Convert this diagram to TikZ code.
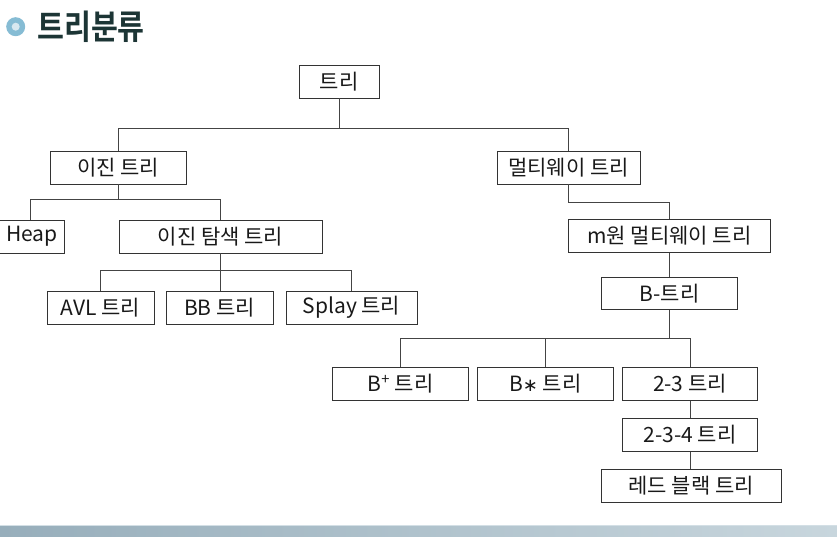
\documentclass[tikz,border=0pt]{standalone}
\usepackage{fontspec}
\setmainfont{Noto Sans CJK KR}
\newfontfamily\titlefont{Noto Sans CJK KR}[BoldFont={* Bold}]
\newfontfamily\symfont{DejaVu Sans}
\definecolor{boxline}{HTML}{333333}
\definecolor{connline}{HTML}{444444}
\definecolor{titlecol}{HTML}{1C3535}
\definecolor{bulletout}{HTML}{86BCD4}
\definecolor{bulletin}{HTML}{D8E8F0}
\definecolor{bandL}{HTML}{97AEBB}
\definecolor{bandR}{HTML}{C8D6DD}
\definecolor{bandtop}{HTML}{D3DFE5}
\begin{document}
\begin{tikzpicture}[x=1pt,y=-1pt,
  tbox/.style={draw=boxline, line width=0.9pt, rectangle, minimum height=33pt, inner sep=0pt,
     font=\fontsize{21}{24}\selectfont, text=black!90},
  conn/.style={draw=connline, line width=0.7pt}]
\useasboundingbox (0,0) rectangle (837,536);
% title
\fill[bulletout] (15.7,26.7) circle (9.5pt);
\fill[bulletin] (15.7,26.7) circle (4pt);
\node[anchor=west, text=titlecol, font=\titlefont\bfseries\fontsize{34}{38}\selectfont, inner sep=0pt] (title) at (37,27) {\scalebox{0.86}[1]{트리분류}};
% bottom band
\shade[left color=bandL, right color=bandR] (0,525) rectangle (837,536);
\fill[bandtop] (0,524.5) rectangle (837,526);
% nodes
\node[tbox, minimum width=80pt] (root) at (339,81.5) {트리};
\node[tbox, minimum width=136pt] (bin) at (118,167.5) {이진 트리};
\node[tbox, minimum width=143pt] (multi) at (568.5,167.5) {멀티웨이 트리};
\node[tbox, minimum width=68pt] (heap) at (30,236.5) {\hspace*{4pt}Heap};
\node[tbox, minimum width=203pt] (bst) at (220.5,236.5) {이진 탐색 트리};
\node[tbox, minimum width=107pt] (avl) at (100.5,307.5) {AVL 트리};
\node[tbox, minimum width=107pt] (bb) at (219.5,307.5) {BB 트리};
\node[tbox, minimum width=131pt] (splay) at (351.5,307.5) {Splay 트리};
\node[tbox, minimum width=202pt] (mway) at (669.5,236) {m원 멀티웨이 트리};
\node[tbox, minimum width=136pt, minimum height=32pt] (btree) at (669.5,293.3) {B-트리};
\node[tbox, minimum width=136pt] (bplus) at (400.5,384) {B\textsuperscript{+} 트리};
\node[tbox, minimum width=136pt] (bstar) at (545.3,384) {B{\symfont\fontsize{18}{20}\selectfont ∗} 트리};
\node[tbox, minimum width=135pt] (t23) at (690,384) {2-3 트리};
\node[tbox, minimum width=135pt] (t234) at (690,435) {2-3-4 트리};
\node[tbox, minimum width=180pt] (rb) at (691,486) {레드 블랙 트리};
% connectors
\draw[conn] (root.south) -- ++(0,31);
\draw[conn] (bin.north) -- ++(0,-22) -| (multi.north);
\draw[conn] (bin.south) -- ++(0,16);
\draw[conn] (heap.north) -- ++(0,-20) -| (bst.north);
\draw[conn] (bst.south) -- (bst.south |- bb.north);
\draw[conn] (avl.north) -- ++(0,-20) -| (splay.north);
\draw[conn] (multi.south) -- ++(0,18) -| (mway.north);
\draw[conn] (mway.south) -- (btree.north);
\draw[conn] (btree.south) -- ++(0,29);
\draw[conn] (bplus.north) -- ++(0,-29) -| (t23.north);
\draw[conn] (bstar.north) -- ++(0,-29);
\draw[conn] (t23.south) -- (t234.north);
\draw[conn] (t234.south) -- (t234.south |- rb.north);
\end{tikzpicture}
\end{document}
